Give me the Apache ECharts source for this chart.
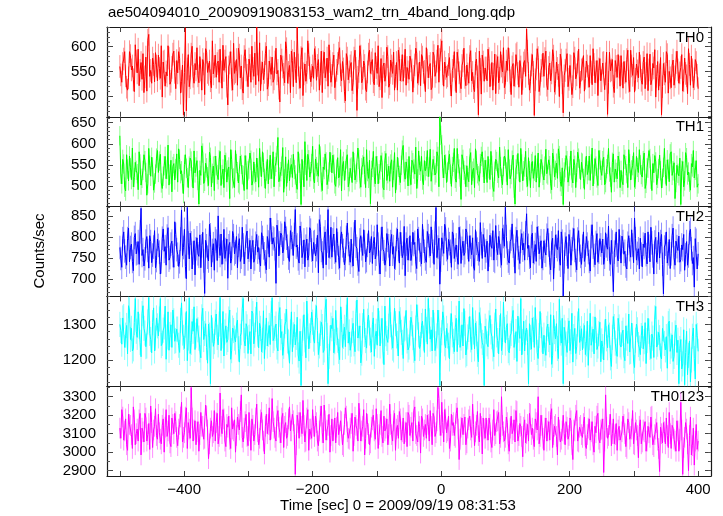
<!DOCTYPE html>
<html><head><meta charset="utf-8">
<script src="https://cdn.jsdelivr.net/npm/echarts@6/dist/echarts.min.js"></script>
<style>html,body{margin:0;padding:0;background:#fff}#c{width:723px;height:516px}</style>
</head><body><div id="c"></div>
<script>
// bins: A arrays at t = T_START + i*T_STEP, B arrays at t = T_START + i*T_STEP + T_STEP/2
// (seconds from 2009/09/19 08:31:53)
const T_START = -500, T_STEP = 3;

const th0 = [
560,528,575,541,512,590,553,533,604,547,
521,568,586,539,510,625,552,577,529,561,
583,536,498,571,549,602,524,558,591,515,
547,576,530,462,638,555,519,585,540,566,
598,527,553,574,503,589,544,531,612,560,
538,571,595,516,552,580,482,567,534,607,
549,522,583,561,506,594,542,575,528,556,
587,640,530,511,569,548,601,523,557,579,
535,597,552,488,573,544,610,526,562,591,
519,556,640,537,578,501,565,548,584,529,
561,596,532,574,545,507,589,553,520,570,
542,583,514,566,598,531,555,490,577,549,
568,527,593,471,550,581,536,562,509,585,
546,574,523,558,602,535,497,567,543,580,
525,561,589,540,512,576,552,530,595,558,
534,571,508,563,587,545,521,579,550,598,
537,566,518,582,549,603,574,612,520,556,
541,578,500,560,533,589,547,515,571,538,
563,526,592,548,509,575,462,554,583,530,
557,595,519,568,544,505,580,536,561,598,
527,552,574,503,566,541,587,518,559,535,
572,636,546,529,584,461,555,578,524,562,
540,591,513,567,547,581,526,556,499,573,
466,552,586,534,560,519,577,543,595,528,
555,510,571,540,582,523,564,549,501,576,
531,568,545,463,589,553,520,572,538,559,
582,516,548,574,530,593,542,508,565,537,
561,524,579,546,511,585,533,557,498,570,
543,462,566,528,584,550,517,573,539,591,
526,558,510,577,541,596,522,553,535,568,
515];
const th0b = [
543,566,590,518,537,582,561,509,571,595,
552,534,507,579,613,540,526,564,588,531,
556,602,569,520,541,577,530,585,548,572,
590,506,563,548,470,584,537,601,526,553,
541,580,512,565,596,548,571,517,545,583,
566,528,549,603,571,520,559,590,512,546,
574,597,537,515,580,553,519,562,601,540,
523,565,608,547,533,586,514,571,544,528,
569,545,516,583,559,527,596,548,507,572,
589,527,563,516,598,545,530,612,557,542,
536,578,562,512,591,569,537,577,604,528,
566,517,552,587,543,570,509,586,533,561,
511,577,556,538,602,527,571,514,549,593,
567,529,588,546,519,576,560,530,599,518,
573,546,512,568,593,531,584,560,522,549,
581,553,540,597,526,569,584,548,509,573,
560,513,589,540,571,528,593,545,569,538,
564,523,552,590,507,572,529,562,597,521,
545,580,531,517,566,539,591,504,569,557,
531,576,543,512,585,561,527,590,549,517,
571,598,531,559,520,584,546,572,503,567,
540,591,512,563,548,533,596,509,552,587,
576,522,558,531,594,508,569,542,585,527,
541,573,519,562,503,588,535,569,516,553,
582,536,561,518,549,596,527,572,555,531,
567,513,589,528,551,574,507,560,584,520,
545,570,528,593,509,561,578,534,551,589,
532,568,515,586,553,523,566,594,540,512,
578,519,545,590,506,537,562,522,568,553,
547,584,531,546,505,564,581,517,574,542];

const th1 = [
619,505,552,488,540,571,515,498,556,529,
581,502,537,560,478,589,523,545,507,566,
532,575,494,548,517,597,528,486,553,541,
509,563,536,482,574,520,547,559,495,531,
560,457,525,578,511,543,501,568,530,489,
548,515,582,527,496,556,538,470,563,519,
584,534,503,551,525,572,492,540,561,512,
529,566,497,545,581,518,535,505,573,540,
498,556,615,521,547,485,569,530,512,551,
575,526,492,554,456,537,605,513,562,534,
594,507,546,523,571,489,539,557,516,580,
531,552,499,567,524,488,558,536,574,510,
545,581,514,532,563,497,550,527,586,518,
458,544,521,570,505,538,556,491,577,529,
511,562,537,483,568,525,549,596,516,541,
570,503,555,528,494,583,535,514,560,546,
522,587,508,548,531,570,664,598,519,552,
533,575,499,556,518,589,540,468,563,527,
548,510,579,535,496,561,524,553,581,507,
539,570,515,549,487,563,530,592,518,546,
564,502,540,527,573,457,551,534,589,512,
545,520,567,496,558,535,509,578,531,552,
514,587,526,548,491,565,537,518,572,499,
456,543,560,523,583,507,549,532,566,515,
554,492,571,536,513,590,528,547,501,562,
525,568,508,551,533,485,576,540,517,558,
537,503,563,529,586,514,548,497,570,532,
550,521,578,506,542,565,489,531,557,518,
573,495,544,528,562,510,581,536,470,549,
524,456,558,512,567,533,490,545,519,560,
505];
const th1b = [
528,563,497,574,512,543,590,520,537,491,
552,518,574,532,505,549,568,490,528,584,
559,507,523,570,539,502,561,546,514,576,
588,529,505,551,542,496,566,521,583,545,
513,537,595,506,554,522,580,498,547,571,
527,562,501,540,573,509,545,586,517,496,
553,507,571,527,489,549,536,578,502,557,
510,543,589,522,556,494,563,538,517,581,
546,572,510,534,591,517,499,562,543,520,
539,506,581,530,563,498,549,575,521,553,
516,564,532,598,509,545,576,503,533,556,
573,505,540,519,586,547,513,564,498,542,
508,555,528,590,517,543,569,496,534,561,
537,582,505,548,529,572,496,560,513,547,
552,497,579,514,544,508,585,533,557,500,
523,561,540,592,517,549,570,503,536,584,
545,511,563,526,581,498,620,542,573,508,
561,528,546,589,509,553,521,574,537,498,
520,566,503,542,588,529,511,570,544,561,
508,541,582,497,535,558,519,546,503,571,
533,586,517,561,495,540,577,509,552,536,
582,499,536,553,518,572,542,497,563,525,
547,529,562,505,578,521,554,588,510,543,
533,572,509,548,519,563,496,580,540,556,
518,545,527,571,552,500,565,519,584,537,
560,503,541,589,521,556,509,532,571,496,
511,574,548,496,553,538,579,516,544,586,
527,560,494,543,584,516,553,572,503,541,
536,518,589,501,540,576,525,555,508,530,
566,537,498,579,526,509,553,584,537,497];

const th2 = [
775,728,812,752,796,741,783,720,808,762,
735,868,770,748,801,726,789,757,815,744,
780,712,797,766,733,822,751,790,728,806,
759,741,864,775,730,870,748,786,762,710,
798,754,727,811,666,779,743,805,768,721,
790,850,756,735,818,770,702,787,749,803,
764,727,796,752,781,736,814,769,724,792,
748,806,775,731,799,760,722,788,845,783,
795,690,812,786,804,771,820,778,742,799,
756,865,781,738,808,764,729,795,757,816,
743,789,770,715,825,762,797,734,865,776,
752,807,740,784,726,812,768,749,833,761,
795,731,840,772,718,803,756,788,744,815,
768,737,799,759,783,712,824,765,746,792,
731,806,777,750,819,738,783,761,708,797,
772,744,811,787,725,796,758,830,766,740,
803,755,789,735,870,776,688,798,761,819,
747,784,728,806,769,752,823,737,790,763,
811,742,776,798,721,785,760,834,749,793,
767,719,804,773,745,827,758,786,733,801,
870,762,738,795,778,714,816,751,790,769,
745,855,780,727,809,763,742,798,775,726,
791,757,820,739,786,700,805,770,748,812,
660,783,759,806,733,794,768,722,815,754,
778,742,801,763,719,829,756,787,740,796,
762,735,810,771,748,792,670,780,757,818,
738,789,766,724,803,752,781,845,745,772,
797,729,775,758,812,741,786,712,799,764,
750,806,665,783,738,794,760,821,733,777,
802,746,770,721,789,755,818,737,681,792,
760];
const th2b = [
749,796,767,733,821,775,742,799,760,789,
812,756,731,790,768,803,739,776,727,795,
764,741,819,777,802,745,783,756,836,770,
730,795,756,818,701,786,809,724,791,772,
760,805,779,743,792,752,830,729,784,796,
744,778,807,764,749,795,779,738,813,760,
801,780,742,823,736,802,748,792,775,740,
785,764,745,810,774,741,801,752,817,798,
772,828,755,809,762,836,797,750,815,784,
806,776,748,826,751,793,778,745,822,769,
787,755,804,841,768,726,812,790,751,823,
793,764,820,751,797,779,734,799,782,740,
756,807,778,736,793,772,817,741,780,762,
801,785,748,829,740,795,771,733,808,779,
789,759,725,794,770,811,751,825,783,745,
803,760,782,741,819,769,736,790,748,813,
779,824,766,809,751,797,745,782,830,770,
794,766,812,749,781,735,797,773,756,819,
775,803,758,729,817,771,742,784,806,752,
790,757,781,815,742,773,801,755,820,778,
801,743,789,831,757,796,773,737,808,785,
810,773,752,801,738,782,824,760,791,749,
766,804,781,722,797,754,778,815,733,790,
741,801,725,789,772,820,744,795,769,735,
812,757,783,742,801,776,734,808,764,781,
795,752,779,826,735,788,764,812,743,776,
802,759,731,785,770,817,739,796,761,724,
759,783,809,736,778,823,755,788,740,811,
789,735,776,812,760,725,803,751,790,768,
740,781,806,758,733,810,772,751,796,724];

const th3 = [
1300,1245,1322,1270,1218,1340,1289,1232,1372,1264,
1295,1210,1352,1276,1240,1375,1258,1305,1226,1318,
1268,1372,1247,1293,1203,1335,1272,1236,1310,1255,
1287,1222,1360,1264,1298,1199,1374,1250,1281,1230,
1316,1262,1207,1345,1275,1236,1301,1135,1284,1252,
1329,1243,1375,1268,1212,1296,1258,1340,1227,1283,
1251,1312,1195,1277,1372,1240,1293,1264,1218,1330,
1270,1362,1235,1289,1256,1205,1318,1273,1244,1374,
1262,1301,1226,1347,1280,1239,1308,1254,1192,1335,
1271,1243,1320,1198,1130,1290,1257,1365,1232,1283,
1306,1248,1352,1216,1275,1294,1229,1370,1135,1262,
1288,1221,1339,1256,1202,1314,1267,1238,1374,1279,
1245,1303,1224,1368,1260,1193,1297,1272,1234,1326,
1256,1299,1211,1281,1345,1240,1317,1188,1274,1250,
1374,1265,1229,1302,1247,1336,1278,1205,1290,1254,
1237,1320,1263,1199,1355,1271,1244,1309,1222,1286,
1372,1259,1226,1298,1246,1340,1130,1277,1318,1235,
1268,1204,1330,1253,1291,1224,1365,1262,1240,1303,
1219,1286,1257,1347,1232,1274,1196,1312,1250,1130,
1281,1238,1325,1266,1210,1343,1255,1291,1227,1362,
1248,1302,1221,1275,1339,1241,1197,1284,1372,1252,
1226,1290,1135,1264,1318,1236,1279,1205,1336,1257,
1270,1214,1301,1243,1189,1325,1260,1233,1370,1248,
1135,1276,1222,1310,1252,1195,1289,1238,1344,1261,
1229,1297,1246,1186,1331,1259,1218,1283,1240,1306,
1254,1201,1315,1235,1270,1183,1322,1248,1211,1293,
1237,1284,1199,1262,1329,1225,1268,1180,1301,1244,
1216,1296,1252,1191,1317,1236,1273,1208,1350,1245,
1263,1204,1287,1229,1178,1309,1240,1197,1276,1222,
1135,1258,1190,1132,1281,1214,1140,1267,1205,1300,
1225];
const th3b = [
1283,1318,1236,1297,1352,1258,1226,1305,1281,1335,
1250,1330,1289,1238,1307,1275,1221,1346,1262,1296,
1315,1241,1284,1351,1265,1228,1299,1340,1253,1287,
1242,1311,1276,1233,1336,1262,1219,1308,1349,1270,
1285,1229,1321,1258,1302,1192,1270,1325,1239,1306,
1264,1301,1227,1336,1279,1250,1315,1203,1290,1262,
1298,1232,1267,1344,1255,1302,1219,1280,1337,1246,
1314,1273,1303,1224,1338,1265,1240,1297,1330,1255,
1289,1237,1328,1263,1214,1296,1342,1251,1279,1224,
1300,1264,1215,1281,1247,1327,1207,1295,1268,1334,
1259,1320,1283,1240,1306,1222,1342,1269,1211,1298,
1317,1252,1277,1225,1349,1236,1292,1320,1248,1228,
1283,1246,1331,1262,1296,1220,1342,1255,1309,1276,
1223,1318,1267,1242,1303,1282,1226,1351,1261,1295,
1299,1234,1345,1268,1212,1313,1250,1287,1339,1229,
1276,1302,1228,1290,1320,1233,1297,1262,1343,1245,
1310,1285,1340,1227,1268,1305,1256,1335,1246,1289,
1242,1296,1271,1224,1317,1278,1236,1299,1344,1215,
1265,1322,1230,1279,1304,1217,1333,1268,1241,1295,
1246,1304,1279,1232,1298,1271,1218,1330,1250,1286,
1292,1227,1268,1316,1236,1280,1323,1261,1215,1309,
1278,1250,1302,1231,1286,1347,1222,1269,1297,1218,
1233,1289,1258,1327,1214,1280,1302,1205,1276,1317,
1292,1245,1283,1227,1331,1266,1219,1301,1250,1288,
1268,1216,1309,1263,1242,1287,1321,1230,1275,1196,
1238,1279,1260,1299,1207,1264,1294,1226,1317,1243,
1275,1213,1296,1247,1223,1304,1198,1256,1285,1234,
1269,1232,1305,1255,1281,1205,1262,1318,1237,1278,
1212,1289,1247,1266,1302,1225,1271,1211,1298,1256,
1233,1176,1285,1222,1160,1254,1201,1290,1148,1269];

const th0123 = [
3130,3230,3065,3180,3010,3150,3095,3245,3040,3125,
3175,2985,3110,3210,3060,3155,3250,3025,3140,3090,
3205,3070,3145,3000,3230,3115,3050,3185,3100,3165,
3035,3150,3270,3080,3190,3020,3125,3350,3060,3170,
3110,3005,3215,3140,3075,3195,2965,3130,3085,3225,
3160,3045,3320,3100,3180,3030,3135,3070,3240,3115,
3000,3190,3120,3310,3055,3165,3085,3215,3010,3145,
3095,3260,3040,3175,3120,2990,3205,3150,3065,3290,
3130,3060,3225,3105,3185,3025,3160,3090,3245,3115,
3170,2880,3200,3075,3140,3280,3055,3185,3010,3125,
3230,3085,3160,3035,3195,3105,3255,3065,3145,3000,
3180,3120,3050,3215,3090,3165,3030,3240,3110,3070,
3155,3005,3190,3125,3265,3060,3140,2985,3210,3100,
3050,3175,3115,3235,3020,3150,3085,3195,3130,3040,
3260,3095,3170,3010,3145,3220,3065,3185,3110,3030,
3200,3135,3060,3245,3090,3165,2995,3180,3120,3075,
3150,3225,3040,3190,3105,3350,3145,3270,3055,3180,
3115,3020,3205,3160,3080,3240,2960,3135,3095,3190,
3050,3175,3120,3260,3035,3145,3090,3210,2990,3125,
3185,3065,3150,3025,3230,3100,3170,3045,3300,3110,
3080,3160,3005,3195,3120,3055,3220,3090,3140,2975,
3175,3100,3060,3205,3130,3030,3160,3300,3085,3145,
3010,3185,3115,3065,3235,3095,3150,2985,3120,3070,
3200,3040,3135,3090,3170,2960,3115,3225,3055,3145,
3080,3190,3020,3130,3065,3165,3000,3105,3210,3050,
3125,2890,3310,3075,3150,3035,3180,3095,3010,3140,
3060,3195,3100,3020,3160,3085,3225,3040,3120,2970,
3175,3055,3110,3005,3140,3080,3195,3030,3125,3065,
2895,3100,3160,3045,3090,3215,3020,3130,3060,3170,
3005,3270,2880,3080,3125,2900,3190,3035,2930,3150,
3060];
const th0123b = [
3075,3190,3115,3040,3205,3145,3020,3175,3100,3060,
3210,3130,3055,3185,3095,3015,3160,3120,3235,3070,
3105,3045,3180,3135,3085,3200,3030,3150,3210,3080,
3125,3190,3055,3105,3240,3160,3075,3185,3120,3040,
3165,3095,3140,3070,3255,3120,3045,3170,3105,3060,
3210,3085,3140,3230,3060,3150,3195,3020,3125,3175,
3090,3150,3220,3080,3130,3205,3035,3115,3180,3060,
3185,3110,3075,3215,3060,3140,3100,3240,3125,3165,
3080,3195,3135,3050,3210,3140,3075,3180,3115,3205,
3095,3040,3160,3215,3100,3145,3060,3230,3125,3075,
3140,3195,3060,3115,3250,3050,3170,3120,3205,3090,
3060,3185,3135,3095,3170,3040,3150,3195,3075,3130,
3210,3090,3145,3060,3180,3115,3230,3075,3150,3040,
3135,3200,3070,3150,3095,3225,3050,3115,3180,3095,
3150,3060,3210,3125,3075,3180,3110,3045,3160,3215,
3090,3160,3225,3100,3055,3140,3195,3085,3150,3200,
3060,3140,3210,3085,3170,3290,3090,3160,3230,3105,
3195,3060,3145,3090,3210,3125,3070,3185,3150,3040,
3130,3195,3080,3150,3110,3220,3055,3140,3185,3075,
3120,3185,3055,3120,3090,3165,3215,3080,3145,3060,
3190,3045,3130,3100,3175,3225,3060,3155,3085,3135,
3050,3150,3210,3095,3070,3180,3120,3045,3200,3075,
3130,3060,3165,3205,3025,3140,3085,3190,3055,3115,
3100,3165,3070,3185,3040,3120,3200,3060,3135,3095,
3155,3035,3095,3180,3110,3040,3140,3195,3070,3120,
3180,3060,3135,3090,3205,3100,3045,3155,3120,3065,
3110,3150,3030,3180,3070,3125,3045,3160,3090,3140,
3045,3120,3165,3060,3105,3190,3040,3095,3160,3020,
3135,3050,3110,3185,3025,3100,3145,3070,3005,3115,
3070,3120,3025,3160,3045,3090,2985,3130,3060,3015];

const names = ['TH0','TH1','TH2','TH3','TH0123'];
const valuesA = [th0, th1, th2, th3, th0123];
const valuesB = [th0b, th1b, th2b, th3b, th0123b];
const errHalf = [23, 23, 28, 35, 56];   // typical error-bar half length
const yMin = [458, 451, 659, 1128, 2871];
const yMax = [640, 664, 872, 1378, 3357];
const yLabelVals = [[500,550,600],[500,550,600,650],[700,750,800,850],[1200,1300],[2900,3000,3100,3200,3300]];
const yMinorStep = [10, 10, 10, 20, 50];
const xMin = -520, xMax = 420;
const xLabelVals = [-400,-200,0,200,400];
const xTickVals = [-500,-400,-300,-200,-100,0,100,200,300,400];
const titleText = 'ae504094010_20090919083153_wam2_trn_4band_long.qdp';
const xTitle = 'Time [sec] 0 = 2009/09/19 08:31:53';
const yTitle = 'Counts/sec';

// styling / layout
const colors = ['#ff0000','#00ff00','#0000ff','#00ffff','#ff00ff'];
const errColors = ['rgba(255,0,0,0.45)','rgba(0,255,0,0.45)','rgba(0,0,255,0.45)','rgba(0,255,255,0.45)','rgba(255,0,255,0.45)'];
const FONT = 'Liberation Sans, Arial, Helvetica, sans-serif';
const LEFT = 107, RIGHT_EDGE = 711, TOP0 = 27, PH = 89.8;
const AXC = '#1a1a1a';

function range(a, b, s){ const out=[]; for(let v=Math.ceil(a/s)*s; v<=b+1e-9; v+=s) out.push(v); return out; }

const grids=[], xAxes=[], yAxes=[], series=[], graphics=[];
for (let k=0;k<5;k++){
  const top = TOP0 + k*PH;
  grids.push({left: LEFT, top: top, width: RIGHT_EDGE-LEFT, height: PH});
  const last = (k===4);
  ['bottom','top'].forEach(pos=>{
    xAxes.push({
      type:'value', gridIndex:k, position:pos, min:xMin, max:xMax,
      axisLine:{show:true, onZero:false, lineStyle:{color:AXC, width:1.2}},
      axisTick:{show:true, inside:true, length:5, customValues:xTickVals, lineStyle:{color:'#444', width:1}},
      axisLabel:{show: last && pos==='bottom', customValues:xLabelVals, margin:6, color:'#000', fontFamily:FONT, fontSize:15,
        formatter: v => v<0 ? '\u2212'+Math.abs(v) : String(v)},
      splitLine:{show:false}
    });
  });
  const minors = range(yMin[k], yMax[k], yMinorStep[k]);
  const majorIdx = yAxes.length;
  ['left','right'].forEach(pos=>{
    yAxes.push({
      type:'value', gridIndex:k, position:pos, min:yMin[k], max:yMax[k],
      axisLine:{show:true, onZero:false, lineStyle:{color:AXC, width:1.2}},
      axisTick:{show:true, inside:true, length:6, customValues:yLabelVals[k], lineStyle:{color:'#444', width:1}},
      axisLabel:{show: pos==='left', customValues:yLabelVals[k], margin:11, color:'#000', fontFamily:FONT, fontSize:15,
        formatter: v => String(v)},
      splitLine:{show:false}
    });
    yAxes.push({
      type:'value', gridIndex:k, position:pos, min:yMin[k], max:yMax[k],
      axisLine:{show:false, onZero:false},
      axisTick:{show:true, inside:true, length:3, customValues:minors, lineStyle:{color:'#555', width:1}},
      axisLabel:{show:false},
      splitLine:{show:false}
    });
  });
  const A = valuesA[k], B = valuesB[k], data = [];
  for (let i=0;i<A.length;i++){
    data.push([T_START + i*T_STEP, A[i]]);
    if (i < B.length) data.push([T_START + i*T_STEP + T_STEP/2, B[i]]);
  }
  const e = errHalf[k], ec = errColors[k];
  series.push({
    type:'custom', xAxisIndex:2*k, yAxisIndex:majorIdx, data:data, silent:true, clip:true, z:2,
    renderItem:(params, api)=>{
      const x = api.value(0), y = api.value(1);
      const p1 = api.coord([x, y-e]), p2 = api.coord([x, y+e]);
      return {type:'line', shape:{x1:p1[0], y1:p1[1], x2:p2[0], y2:p2[1]}, style:{stroke:ec, lineWidth:1}};
    }
  });
  series.push({
    type:'line', xAxisIndex:2*k, yAxisIndex:majorIdx, data:data,
    showSymbol:false, symbol:'none', sampling:null, silent:true,
    lineStyle:{color:colors[k], width:1}, z:3
  });
  graphics.push({type:'text', right: 723-704, top: top+3, z:10,
    style:{text:names[k], font:'15px '+FONT, fill:'#000', textAlign:'right'}});
}

graphics.push({type:'text', left:108, top:5, style:{text:titleText, font:'15px '+FONT, fill:'#000'}});
graphics.push({type:'text', x:398, y:506, style:{text:xTitle, font:'15px '+FONT, fill:'#000', textAlign:'center', textVerticalAlign:'middle'}});
graphics.push({type:'text', x:40, y:251, rotation:Math.PI/2, style:{text:yTitle, font:'15px '+FONT, fill:'#000', textAlign:'center', textVerticalAlign:'middle'}});

const chart = echarts.init(document.getElementById('c'), null, {renderer:'canvas'});
chart.setOption({
  animation:false, backgroundColor:'#fff',
  grid:grids, xAxis:xAxes, yAxis:yAxes, series:series, graphic:graphics
});
</script></body></html>
